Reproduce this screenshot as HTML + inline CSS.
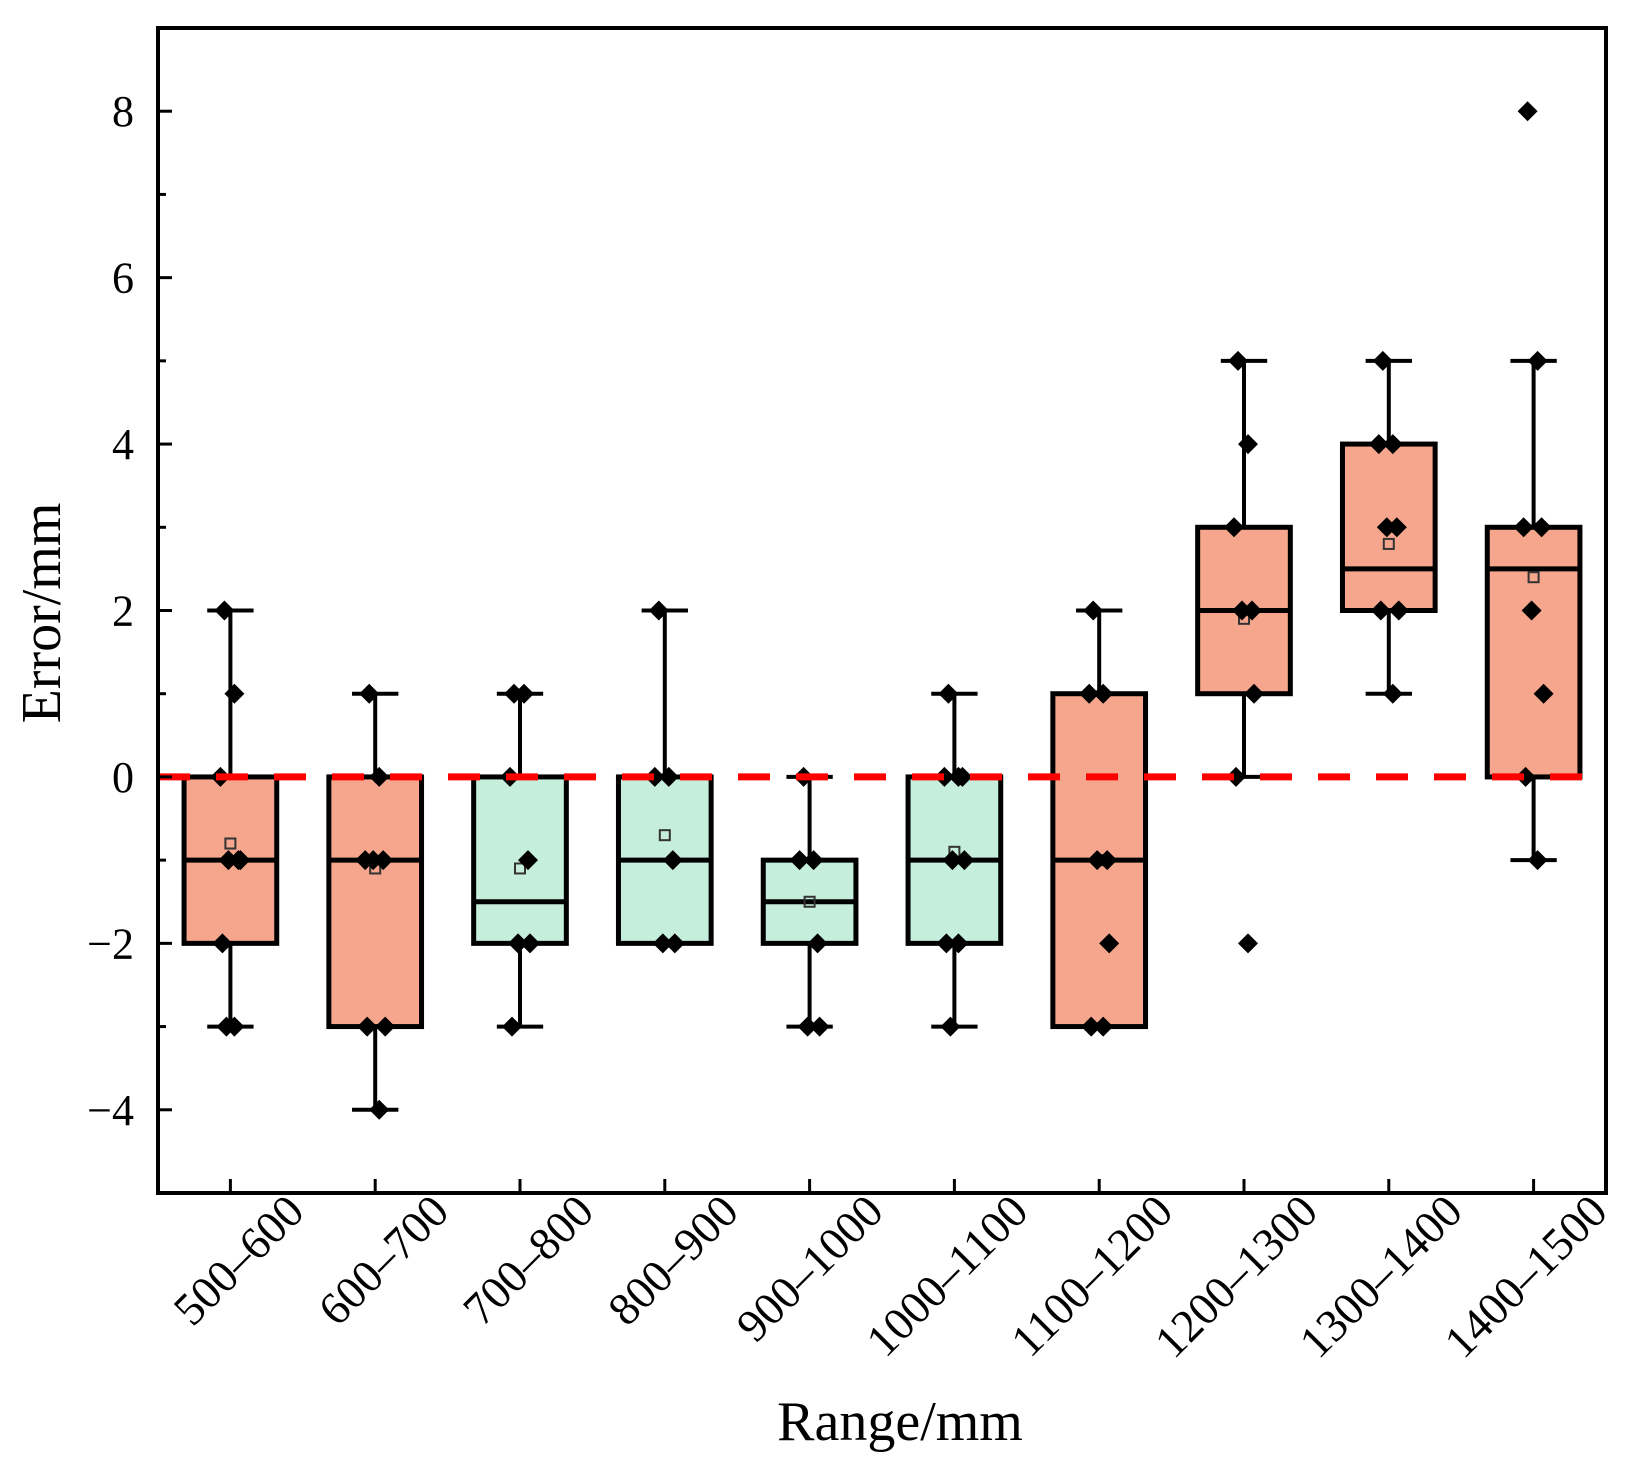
<!DOCTYPE html>
<html><head><meta charset="utf-8"><style>
html,body{margin:0;padding:0;background:#fff;}
svg{display:block;font-family:"Liberation Serif",serif;}
</style></head><body>
<svg id="chart" width="1630" height="1465" viewBox="0 0 1630 1465" xmlns="http://www.w3.org/2000/svg">
<rect x="0" y="0" width="1630" height="1465" fill="#fff"/>
<g id="plot"></g>
<text x="0" y="0" transform="translate(60,613) rotate(-90)" text-anchor="middle" font-size="56">Error/mm</text>
<text x="900" y="1440" text-anchor="middle" font-size="56">Range/mm</text>
</svg>
<script>
const categories=["500–600","600–700","700–800","800–900","900–1000","1000–1100","1100–1200","1200–1300","1300–1400","1400–1500"];
const q1=[-2,-3,-2,-2,-2,-2,-3,1,2,0];
const q3=[0,0,0,0,-1,0,1,3,4,3];
const medians=[-1,-1,-1.5,-1,-1.5,-1,-1,2,2.5,2.5];
const whiskLow=[-3,-4,-3,-2,-3,-3,-3,0,1,-1];
const whiskHigh=[2,1,1,2,0,1,2,5,5,5];
const means=[-0.8,-1.1,-1.1,-0.7,-1.5,-0.9,-1,1.9,2.8,2.4];
const points=[[2,1,0,-1,-1,-1,-2,-3,-3],[1,0,-1,-1,-1,-3,-3,-4],[1,1,0,-1,-2,-2,-3],[2,0,0,-1,-2,-2],[0,-1,-1,-2,-3,-3],[1,0,0,0,-1,-1,-2,-2,-3],[2,1,1,-1,-1,-2,-3,-3],[5,4,3,2,2,1,0,-2],[5,4,4,3,3,2,2,1],[8,5,3,3,2,1,0,-1]];
const boxColor=["salmon","salmon","green","green","green","green","salmon","salmon","salmon","salmon"];
const yTicks=[-4,-2,0,2,4,6,8];
const yMinor=[-5,-3,-1,1,3,5,7];

const L=158,R=1606,T=28,B=1193,YMIN=-5,YMAX=9;
const band=(R-L)/categories.length;
const xS=i=>L+band*(i+0.5);
const yS=v=>B-(v-YMIN)/(YMAX-YMIN)*(B-T);
const fills={salmon:"#f5a68d",green:"#c6eedd"};
const NS="http://www.w3.org/2000/svg";
const g=document.getElementById('plot');
function mk(tag,attrs,parent){const e=document.createElementNS(NS,tag);for(const k in attrs)e.setAttribute(k,attrs[k]);(parent||g).appendChild(e);return e;}
const jit=[-6,4,-10,8,-2,10,-8,4,-4];
const bw=band*0.64, cw=band*0.32;
categories.forEach((c,i)=>{
  const cx=xS(i);
  const grp=mk('g',{});
  
  
  let e=mk('line',{x1:cx,x2:cx,y1:yS(whiskLow[i]),y2:yS(whiskHigh[i]),stroke:'#000','stroke-width':4},grp);
  
  e=mk('line',{x1:cx-cw/2,x2:cx+cw/2,y1:yS(whiskHigh[i]),y2:yS(whiskHigh[i]),stroke:'#000','stroke-width':4},grp);
  
  e=mk('line',{x1:cx-cw/2,x2:cx+cw/2,y1:yS(whiskLow[i]),y2:yS(whiskLow[i]),stroke:'#000','stroke-width':4},grp);
  
  e=mk('rect',{x:cx-bw/2,y:yS(q3[i]),width:bw,height:yS(q1[i])-yS(q3[i]),fill:fills[boxColor[i]],stroke:'#000','stroke-width':5},grp);
  
  e=mk('line',{x1:cx-bw/2,x2:cx+bw/2,y1:yS(medians[i]),y2:yS(medians[i]),stroke:'#000','stroke-width':5},grp);
  
  e=mk('rect',{x:cx-5,y:yS(means[i])-5,width:10,height:10,fill:'none',stroke:'#333','stroke-width':2},grp);
  
  points[i].forEach((v,j)=>{
    const px=cx+jit[j%jit.length],py=yS(v),s=10;
    const p=mk('polygon',{points:`${px},${py-s} ${px+s},${py} ${px},${py+s} ${px-s},${py}`,fill:'#000'},grp);
    
    
  });
  let t=mk('line',{x1:cx,x2:cx,y1:B,y2:B-14,stroke:'#000','stroke-width':3});
  
  const lx=cx+76,ly=1214;
  t=mk('text',{x:lx,y:ly,transform:`rotate(-45 ${lx} ${ly})`,'text-anchor':'end','font-size':46,fill:'#000'});
  t.textContent=c;
  
});
let z=mk('line',{x1:L,x2:R,y1:yS(0),y2:yS(0),stroke:'#ff0000','stroke-width':7,'stroke-dasharray':'32 26'});

yTicks.forEach(v=>{
  let t=mk('line',{x1:L,x2:L+14,y1:yS(v),y2:yS(v),stroke:'#000','stroke-width':3});
  
  t=mk('text',{x:134,y:yS(v)+15,'text-anchor':'end','font-size':44});
  t.textContent=v<0?'−'+(-v):String(v);
  
});
yMinor.forEach(v=>{
  const t=mk('line',{x1:L,x2:L+8,y1:yS(v),y2:yS(v),stroke:'#000','stroke-width':3});
  
});
const frame=mk('rect',{x:L,y:T,width:R-L,height:B-T,fill:'none',stroke:'#000','stroke-width':4});


</script>
</body></html>
